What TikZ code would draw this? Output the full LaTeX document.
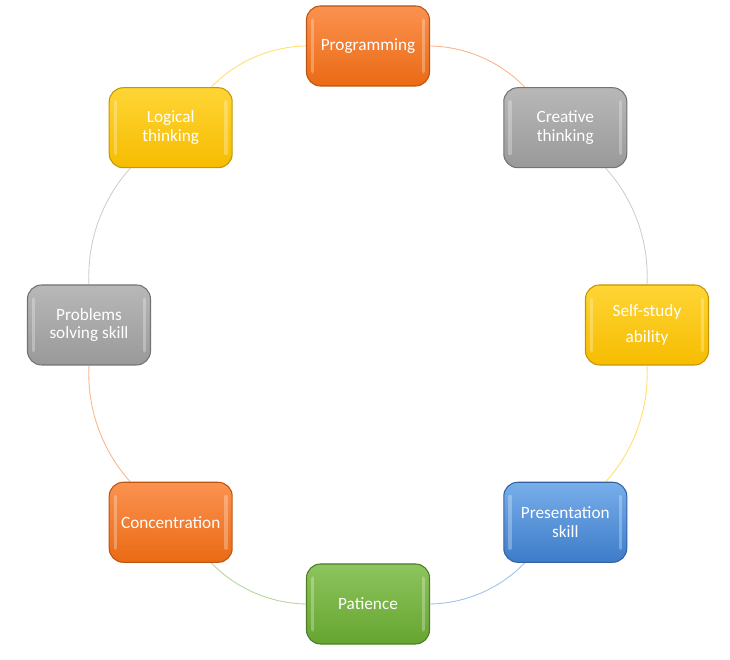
\documentclass[tikz,border=0pt]{standalone}
\usepackage{fontspec}
\setmainfont{Carlito}
\usetikzlibrary{backgrounds}
\definecolor{sklorange}{HTML}{F57B2C}
\definecolor{sklorangetop}{HTML}{FB9250}
\definecolor{sklorangebot}{HTML}{EA6A14}
\definecolor{sklgray}{HTML}{A6A6A6}
\definecolor{sklgraytop}{HTML}{B8B8B8}
\definecolor{sklgraybot}{HTML}{999999}
\definecolor{sklgold}{HTML}{FFC90A}
\definecolor{sklgoldtop}{HTML}{FFD535}
\definecolor{sklgoldbot}{HTML}{F6BC00}
\definecolor{sklblue}{HTML}{4F8ED8}
\definecolor{sklbluetop}{HTML}{78AEEA}
\definecolor{sklbluebot}{HTML}{3D7CC9}
\definecolor{sklgreen}{HTML}{78B544}
\definecolor{sklgreentop}{HTML}{8DC45E}
\definecolor{sklgreenbot}{HTML}{66A530}

\begin{document}
\begin{tikzpicture}[
        skill/.style={rounded corners=0.28cm, line width=0.6pt, align=center,
                      minimum width=2.46cm, minimum height=1.6cm, text=white,
                      font=\fontsize{9.8}{10.8}\selectfont,
                      path picture={
                        \draw[white, opacity=0.28, line width=1.8pt, line cap=round]
                          ([xshift=3.5pt,yshift=-8pt]path picture bounding box.north west) --
                          ([xshift=3.5pt,yshift=8pt]path picture bounding box.south west);
                        \draw[white, opacity=0.28, line width=1.8pt, line cap=round]
                          ([xshift=-3.5pt,yshift=-8pt]path picture bounding box.north east) --
                          ([xshift=-3.5pt,yshift=8pt]path picture bounding box.south east);}},
        orangebox/.style={skill, top color=sklorangetop, bottom color=sklorangebot, draw=sklorangebot!80!black},
        graybox/.style={skill, top color=sklgraytop, bottom color=sklgraybot, draw=sklgraybot!75!black},
        goldbox/.style={skill, top color=sklgoldtop, bottom color=sklgoldbot, draw=sklgoldbot!80!black},
        bluebox/.style={skill, top color=sklbluetop, bottom color=sklbluebot, draw=sklbluebot!80!black},
        greenbox/.style={skill, top color=sklgreentop, bottom color=sklgreenbot, draw=sklgreenbot!75!black},
        ring/.style={line width=0.5pt, bend left=22.5, looseness=0.885}
      ]
        \useasboundingbox (-7.36,-6.70) rectangle (7.24,6.50);

        \node[orangebox] (prog) at (90:5.58)  {Programming};
        \node[graybox]   (crea) at (45:5.58)  {Creative\\thinking};
        \node[goldbox]   (self) at (0:5.58)   {Self-study\\[4pt]ability};
        \node[bluebox]   (pres) at (-45:5.58) {Presentation\\skill};
        \node[greenbox]  (pat)  at (-90:5.58) {Patience};
        \node[orangebox] (conc) at (-135:5.58) {Concentration};
        \node[graybox]   (prob) at (180:5.58) {Problems\\solving skill};
        \node[goldbox]   (logi) at (135:5.58) {Logical\\thinking};

        \begin{scope}[on background layer]
        \draw[ring, sklorange!55] (prog) to (crea);
        \draw[ring, sklgray!55]   (crea) to (self);
        \draw[ring, sklgold!60]   (self) to (pres);
        \draw[ring, sklblue!55]   (pres) to (pat);
        \draw[ring, sklgreen!55]  (pat)  to (conc);
        \draw[ring, sklorange!55] (conc) to (prob);
        \draw[ring, sklgray!55]   (prob) to (logi);
        \draw[ring, sklgold!60]   (logi) to (prog);
        \end{scope}
      \end{tikzpicture}
\end{document}
